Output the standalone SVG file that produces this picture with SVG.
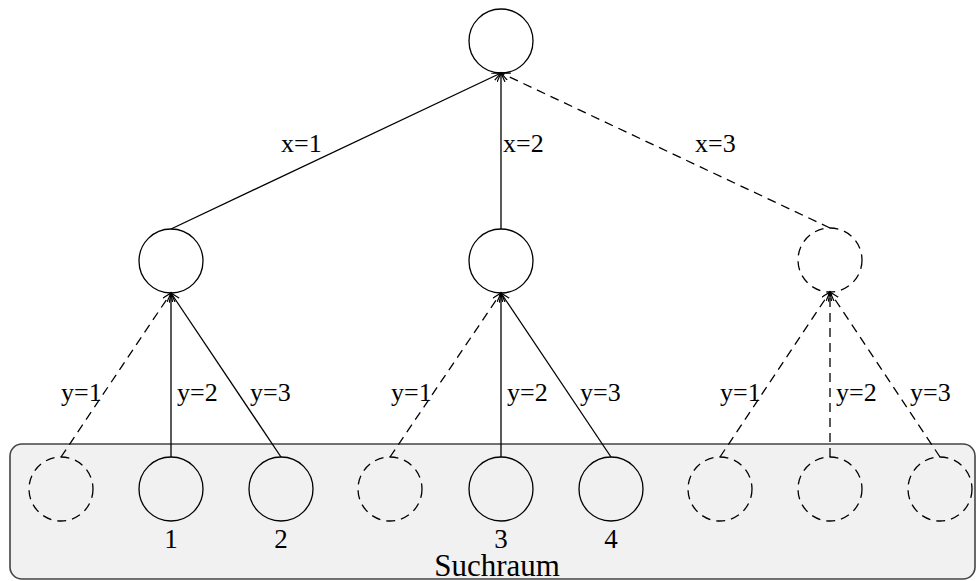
<svg xmlns="http://www.w3.org/2000/svg" width="977" height="581" viewBox="0 0 977 581">
<style>
.n{fill:none;stroke:#000;stroke-width:1.3}
.d{stroke-dasharray:9,6}
.e{stroke:#000;stroke-width:1.3;fill:none}
.t{font-family:"Liberation Serif","Times New Roman",serif;fill:#000}
.lab{font-size:26px}
.num{font-size:27px;text-anchor:middle}
</style>
<defs>
<marker id="ah" markerUnits="userSpaceOnUse" markerWidth="12" markerHeight="10" refX="9" refY="4" orient="auto">
<path d="M0,0 L9,4 L0,8" fill="none" stroke="#000" stroke-width="1.2"/>
</marker>
</defs>
<g id="space">
<rect x="10" y="444" width="965" height="135" rx="12" ry="12" fill="#f1f1f1" stroke="#444" stroke-width="1.6"/>
<text class="t" x="497" y="576" font-size="31" text-anchor="middle">Suchraum</text>
</g>
<g id="connectors">
<line class="e" x1="171" y1="229" x2="501" y2="73" marker-end="url(#ah)"/>
<line class="e" x1="501" y1="229" x2="501" y2="73" marker-end="url(#ah)"/>
<line class="e d" x1="830" y1="228" x2="501" y2="73" marker-end="url(#ah)"/>
<line class="e d" x1="61" y1="457" x2="171" y2="293" marker-end="url(#ah)"/>
<line class="e" x1="171" y1="457" x2="171" y2="293" marker-end="url(#ah)"/>
<line class="e" x1="281" y1="457" x2="171" y2="293" marker-end="url(#ah)"/>
<line class="e d" x1="390" y1="457" x2="501" y2="293" marker-end="url(#ah)"/>
<line class="e" x1="501" y1="457" x2="501" y2="293" marker-end="url(#ah)"/>
<line class="e" x1="611" y1="457" x2="501" y2="293" marker-end="url(#ah)"/>
<line class="e d" x1="720" y1="457" x2="830" y2="292" marker-end="url(#ah)"/>
<line class="e d" x1="830" y1="457" x2="830" y2="292" marker-end="url(#ah)"/>
<line class="e d" x1="940" y1="457" x2="830" y2="292" marker-end="url(#ah)"/>
<text class="t lab" x="281" y="152">x=1</text>
<text class="t lab" x="503" y="152">x=2</text>
<text class="t lab" x="695" y="152">x=3</text>
<text class="t lab" x="61" y="401">y=1</text>
<text class="t lab" x="177" y="401">y=2</text>
<text class="t lab" x="250" y="401">y=3</text>
<text class="t lab" x="391" y="401">y=1</text>
<text class="t lab" x="507" y="401">y=2</text>
<text class="t lab" x="580" y="401">y=3</text>
<text class="t lab" x="720" y="401">y=1</text>
<text class="t lab" x="836" y="401">y=2</text>
<text class="t lab" x="910" y="401">y=3</text>
</g>
<g id="root"><circle class="n" cx="501" cy="41" r="32"/></g>
<g id="a1"><circle class="n" cx="171" cy="261" r="32"/></g>
<g id="a2"><circle class="n" cx="501" cy="261" r="32"/></g>
<g id="a3"><circle class="n d" cx="830" cy="260" r="32"/></g>
<g id="b1"><circle class="n d" cx="61" cy="489" r="32"/></g>
<g id="b2"><circle class="n" cx="171" cy="489" r="32"/><text class="t num" x="171" y="548">1</text></g>
<g id="b3"><circle class="n" cx="281" cy="489" r="32"/><text class="t num" x="281" y="548">2</text></g>
<g id="b4"><circle class="n d" cx="390" cy="489" r="32"/></g>
<g id="b5"><circle class="n" cx="501" cy="489" r="32"/><text class="t num" x="501" y="548">3</text></g>
<g id="b6"><circle class="n" cx="611" cy="489" r="32"/><text class="t num" x="611" y="548">4</text></g>
<g id="b7"><circle class="n d" cx="720" cy="489" r="32"/></g>
<g id="b8"><circle class="n d" cx="830" cy="489" r="32"/></g>
<g id="b9"><circle class="n d" cx="940" cy="489" r="32"/></g>
</svg>
